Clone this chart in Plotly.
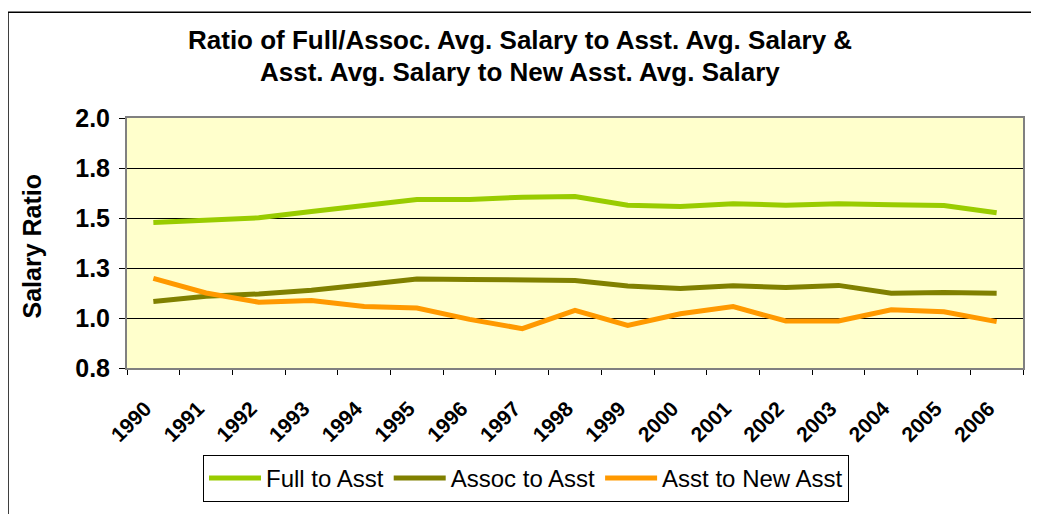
import plotly.graph_objects as go

years = [str(y) for y in range(1990, 2007)]
full_to_asst = [1.478, 1.490, 1.501, 1.533, 1.562, 1.592, 1.592, 1.604, 1.607,
                1.564, 1.557, 1.571, 1.564, 1.571, 1.566, 1.562, 1.526]
assoc_to_asst = [1.082, 1.109, 1.120, 1.139, 1.166, 1.195, 1.193, 1.190, 1.188,
                 1.160, 1.147, 1.161, 1.153, 1.163, 1.124, 1.127, 1.124]
asst_to_new = [1.198, 1.125, 1.079, 1.087, 1.057, 1.050, 0.993, 0.947, 1.038,
               0.963, 1.021, 1.057, 0.985, 0.985, 1.041, 1.031, 0.982]
y_ticks = [0.75, 1.0, 1.25, 1.5, 1.75, 2.0]
y_tick_labels = ["0.8", "1.0", "1.3", "1.5", "1.8", "2.0"]

FONT = "Arial, Liberation Sans, sans-serif"

fig = go.Figure()
for name, vals, color in [("Full to Asst", full_to_asst, "#99CC00"),
                          ("Assoc to Asst", assoc_to_asst, "#808000"),
                          ("Asst to New Asst", asst_to_new, "#FF9900")]:
    fig.add_trace(go.Scatter(x=years, y=vals, name=name, mode="lines",
                             line=dict(color=color, width=5)))

# page offset (browser body margin)
OFF = 8
W, H = 1039 - OFF, 514 - OFF
# target plot area in screenshot pixels
PX0, PX1, PY0, PY1 = 127, 1023, 118, 371
L, R = PX0 - OFF, (OFF + W) - PX1
T, B = PY0 - OFF, (OFF + H) - PY1
pw, ph = PX1 - PX0, PY1 - PY0

def px_x(x):
    return (x - PX0) / pw

def px_y(y):
    return (PY1 - y) / ph

fig.update_layout(
    width=W, height=H,
    margin=dict(l=L, r=R, t=T, b=B, pad=0),
    paper_bgcolor="white",
    plot_bgcolor="#FFFFCC",
    font=dict(family=FONT, color="black"),
    showlegend=True,
    legend=dict(orientation="h", x=px_x(526), xanchor="center",
                y=px_y(459), yanchor="top",
                bordercolor="black", borderwidth=1, bgcolor="white",
                font=dict(size=24, family=FONT), itemwidth=52,
                tracegroupgap=0),
    xaxis=dict(type="category", tickson="boundaries", ticks="outside",
               ticklen=5, tickcolor="black", tickangle=-45,
               ticklabelstandoff=18, ticklabelshift=-8,
               tickfont=dict(size=21, family=FONT, weight="bold"),
               showgrid=False, showline=True, linecolor="#808080", linewidth=2,
               mirror=True, range=[-0.5, 16.5]),
    yaxis=dict(range=[0.75, 2.0], tickvals=y_ticks, ticktext=y_tick_labels,
               ticks="outside", ticklen=6, tickcolor="black",
               ticklabelstandoff=4,
               tickfont=dict(size=25, family=FONT, weight="bold"),
               showgrid=True, gridcolor="black", gridwidth=1,
               showline=True, linecolor="#808080", linewidth=2, mirror=True,
               zeroline=False),
    annotations=[
        dict(text="<b>Ratio of Full/Assoc. Avg. Salary to Asst. Avg. Salary &</b>",
             xref="paper", yref="paper", x=px_x(520), y=px_y(39),
             xanchor="center", yanchor="middle", showarrow=False,
             font=dict(size=26, family=FONT)),
        dict(text="<b>Asst. Avg. Salary to New Asst. Avg. Salary</b>",
             xref="paper", yref="paper", x=px_x(520), y=px_y(71),
             xanchor="center", yanchor="middle", showarrow=False,
             font=dict(size=26, family=FONT)),
        dict(text="<b>Salary Ratio</b>", xref="paper", yref="paper",
             x=px_x(32), y=px_y(248), xanchor="center", yanchor="middle",
             textangle=-90, showarrow=False, font=dict(size=25, family=FONT)),
    ],
    shapes=[dict(type="rect", xref="paper", yref="paper",
                 x0=px_x(8), y0=px_y(530), x1=px_x(1050), y1=px_y(11),
                 line=dict(color="black", width=1.5), layer="below")],
)

fig.write_html("out.html")
